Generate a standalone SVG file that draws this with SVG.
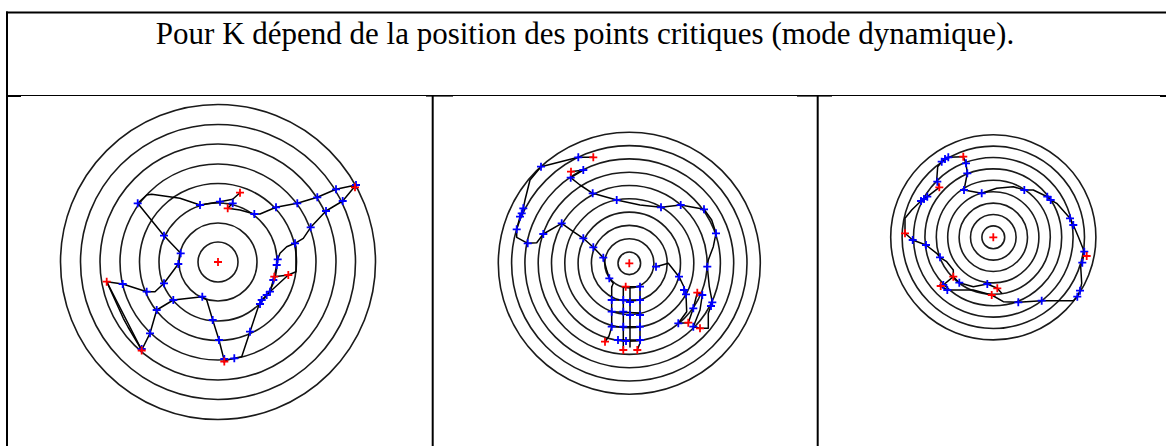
<svg xmlns="http://www.w3.org/2000/svg" xmlns:xlink="http://www.w3.org/1999/xlink" width="1166" height="446" viewBox="0 0 1166 446">
<style>
.ring{fill:none;stroke:#1a1a1a;stroke-width:1.6}
.trk{fill:none;stroke:#000;stroke-width:1.5;stroke-linejoin:round;stroke-linecap:round}
.b{stroke:#0000ff;stroke-width:1.8}
.r{stroke:#ff0000;stroke-width:1.8}
.tl{stroke:#000;fill:none}
.title{font-family:"Liberation Serif","Times New Roman",serif;font-size:31px;fill:#000}
</style>
<defs>
<path id="c" d="M-4 0H4M0 -4V4" fill="none"/>
</defs>
<rect width="1166" height="446" fill="#fff"/>
<g id="table">
<line class="tl" x1="6" y1="12.5" x2="1166" y2="12.5" stroke-width="2"/>
<line class="tl" x1="7" y1="11.5" x2="7" y2="446" stroke-width="2"/>
<line class="tl" x1="7" y1="95.5" x2="1166" y2="95.5" stroke-width="1"/>
<rect x="7" y="95" width="14" height="2" fill="#000"/>
<rect x="426" y="95" width="27" height="1.6" fill="#000"/>
<rect x="797" y="95" width="35" height="1.6" fill="#000"/>
<rect x="1160" y="95" width="6" height="2" fill="#000"/>
<line class="tl" x1="432.7" y1="95" x2="432.7" y2="446" stroke-width="2"/>
<line class="tl" x1="817.7" y1="95" x2="817.7" y2="446" stroke-width="2"/>
</g>
<text class="title" x="585" y="44" text-anchor="middle">Pour K dépend de la position des points critiques (mode dynamique).</text>
<g id="panel1">
<circle class="ring" cx="218" cy="262" r="20"/>
<circle class="ring" cx="218" cy="262" r="39"/>
<circle class="ring" cx="218" cy="262" r="59"/>
<circle class="ring" cx="218" cy="262" r="78.5"/>
<circle class="ring" cx="218" cy="262" r="98"/>
<circle class="ring" cx="218" cy="262" r="118"/>
<circle class="ring" cx="218" cy="262" r="137.5"/>
<circle class="ring" cx="218" cy="262" r="157.5"/>
<polyline class="trk" points="137.7,203.3 146.7,195 151.7,194.3 180,198.3 200,205 220,201.7 232.7,199.3 240,192.7"/>
<polyline class="trk" points="232.7,199.3 232.7,203.3 227.7,208.3 240,210 254.3,214 260,214 276,207.3 297.3,203.3 317.3,197.3 336,189.3 356,185 342.7,201 326,211 310.7,227.3 303.3,238.3 295,243.3 286.7,246.7 280,253.3 277.7,259.3 276.7,265 274.3,276.7 273.3,280 270,291.7 266.7,295 261.7,300 258.3,306.7 250,331.7 241.7,356.7 234.3,358.3 224.3,360.7 219,340 212.7,320 206.7,300 202.3,296.7 173.3,300 156.7,310 150,333.3 141.7,350 128,327 123.3,318.3 106.7,281.7 122.7,284 146.7,291.7 155,291.7 164,283.3 178.3,264 180.7,253.3 164,235.7 137.7,203.3"/>
<polyline class="trk" points="295,243.3 296,246.7 296,271.7 288.3,275 274.3,276.7"/>
<polyline class="trk" points="270,291.7 288.3,275"/>
<polyline class="trk" points="106.7,281.7 141.7,350"/>
<g class="b">
<use xlink:href="#c" x="137.7" y="203.3"/><use xlink:href="#c" x="200" y="205"/><use xlink:href="#c" x="220" y="201.7"/><use xlink:href="#c" x="232.7" y="203.3"/>
<use xlink:href="#c" x="254.3" y="214"/><use xlink:href="#c" x="276" y="207.3"/><use xlink:href="#c" x="297.3" y="203.3"/><use xlink:href="#c" x="317.3" y="197.3"/>
<use xlink:href="#c" x="336" y="189.3"/><use xlink:href="#c" x="356" y="185"/><use xlink:href="#c" x="342.7" y="201"/><use xlink:href="#c" x="326" y="211"/>
<use xlink:href="#c" x="310.7" y="227.3"/><use xlink:href="#c" x="295" y="243.3"/><use xlink:href="#c" x="277.7" y="259.3"/><use xlink:href="#c" x="276.7" y="265"/>
<use xlink:href="#c" x="273.3" y="280"/><use xlink:href="#c" x="270" y="291.7"/><use xlink:href="#c" x="266.7" y="295"/><use xlink:href="#c" x="261.7" y="300"/>
<use xlink:href="#c" x="260" y="304"/><use xlink:href="#c" x="250" y="331.7"/><use xlink:href="#c" x="234.3" y="358.3"/><use xlink:href="#c" x="224.3" y="359"/>
<use xlink:href="#c" x="219" y="340"/><use xlink:href="#c" x="212.7" y="320"/><use xlink:href="#c" x="202.3" y="296.7"/><use xlink:href="#c" x="173.3" y="300"/>
<use xlink:href="#c" x="156.7" y="310"/><use xlink:href="#c" x="150" y="333.3"/><use xlink:href="#c" x="141.7" y="349"/><use xlink:href="#c" x="122.7" y="284"/>
<use xlink:href="#c" x="146.7" y="291.7"/><use xlink:href="#c" x="164" y="283.3"/><use xlink:href="#c" x="178.3" y="264"/><use xlink:href="#c" x="180.7" y="253.3"/>
<use xlink:href="#c" x="164" y="235.7"/>
</g>
<g class="r">
<use xlink:href="#c" x="240" y="192.7"/><use xlink:href="#c" x="227.7" y="208.3"/><use xlink:href="#c" x="355" y="187.3"/><use xlink:href="#c" x="274.3" y="276.7"/>
<use xlink:href="#c" x="288.3" y="275"/><use xlink:href="#c" x="224.3" y="361.5"/><use xlink:href="#c" x="141.7" y="350.5"/><use xlink:href="#c" x="106.7" y="281.7"/>
<use xlink:href="#c" x="218" y="262"/>
</g>
</g>
<g id="panel2">
<circle class="ring" cx="629.3" cy="263.3" r="11.3"/>
<circle class="ring" cx="629.3" cy="263.3" r="24.6"/>
<circle class="ring" cx="629.3" cy="263.3" r="37.9"/>
<circle class="ring" cx="629.3" cy="263.3" r="51.2"/>
<circle class="ring" cx="629.3" cy="263.3" r="64.5"/>
<circle class="ring" cx="629.3" cy="263.3" r="77.8"/>
<circle class="ring" cx="629.3" cy="263.3" r="91.1"/>
<circle class="ring" cx="629.3" cy="263.3" r="104.4"/>
<circle class="ring" cx="629.3" cy="263.3" r="117.7"/>
<circle class="ring" cx="629.3" cy="263.3" r="131"/>
<polyline class="trk" points="593.3,157.3 578.3,157.3 541,166.7 530,180 525,200 523.3,208.3 521.7,213.3 520,216.7 516.7,229.3 516.7,237.3 527.7,243.3 536.7,242.7 543.3,234 561.7,223.3 573.3,231.7 583.3,238.3 593.3,247.3 603.3,257.7 606.7,270 609.3,278.3 613.3,283.3 611.7,287"/>
<polyline class="trk" points="571,171.7 583.3,170 570.7,177.7 580,185 592.7,193.3 616.7,200 640,205 661,207.3 680.7,205 704,209.3 711.7,220 716,233.3 713.3,246.7 708.3,260 707.3,266.7 709.3,286.7 712.3,302.3 708.3,313.3 708.3,328.3 700,328.3 693.3,326.7"/>
<polyline class="trk" points="656,266.7 668.3,263.3 679,276.7 684,287 686,294.3 686.7,311.7 678.3,323.3 688.3,322.7 693.3,308.3 697.3,292.7 702.3,295 700,310 693.3,326.7"/>
<polyline class="trk" points="611.7,287 611.7,327 609,336 605,341.7"/>
<polyline class="trk" points="623.3,287 623.3,350"/>
<polyline class="trk" points="630,287 630,347"/>
<polyline class="trk" points="640,286.7 640,343 637.3,350"/>
<polyline class="trk" points="611.7,300 640,300"/>
<polyline class="trk" points="611.7,311.7 640,313"/>
<polyline class="trk" points="611.7,326.7 640,326.7"/>
<polyline class="trk" points="618,340 640,340"/>
<polyline class="trk" points="623.3,286.7 640,286.7"/>
<g class="b">
<use xlink:href="#c" x="578.3" y="157.3"/><use xlink:href="#c" x="541" y="166.7"/><use xlink:href="#c" x="523.3" y="208.3"/><use xlink:href="#c" x="521.7" y="213.3"/>
<use xlink:href="#c" x="520" y="216.7"/><use xlink:href="#c" x="516.7" y="229.3"/><use xlink:href="#c" x="527.7" y="243.3"/><use xlink:href="#c" x="543.3" y="234"/>
<use xlink:href="#c" x="561.7" y="223.3"/><use xlink:href="#c" x="583.3" y="238.3"/><use xlink:href="#c" x="593.3" y="247.3"/><use xlink:href="#c" x="603.3" y="257.7"/>
<use xlink:href="#c" x="609.3" y="278.3"/><use xlink:href="#c" x="583.3" y="170"/><use xlink:href="#c" x="570.7" y="177.7"/><use xlink:href="#c" x="592.7" y="193.3"/>
<use xlink:href="#c" x="616.7" y="200"/><use xlink:href="#c" x="661" y="207.3"/><use xlink:href="#c" x="680.7" y="205"/><use xlink:href="#c" x="704" y="209.3"/>
<use xlink:href="#c" x="716" y="233.3"/><use xlink:href="#c" x="707.3" y="266.7"/><use xlink:href="#c" x="712.3" y="302.3"/><use xlink:href="#c" x="711" y="306"/>
<use xlink:href="#c" x="693.3" y="326.7"/><use xlink:href="#c" x="656" y="266.7"/><use xlink:href="#c" x="679" y="276.7"/><use xlink:href="#c" x="686" y="294.3"/>
<use xlink:href="#c" x="678.3" y="323.3"/><use xlink:href="#c" x="693.3" y="308.3"/><use xlink:href="#c" x="702.3" y="295"/><use xlink:href="#c" x="684" y="290"/>
<use xlink:href="#c" x="611.7" y="300"/><use xlink:href="#c" x="611.7" y="311.7"/><use xlink:href="#c" x="623.3" y="300"/><use xlink:href="#c" x="623.3" y="311.7"/>
<use xlink:href="#c" x="623.3" y="326.7"/><use xlink:href="#c" x="630" y="302"/><use xlink:href="#c" x="630" y="315"/><use xlink:href="#c" x="640" y="286.7"/>
<use xlink:href="#c" x="640" y="300"/><use xlink:href="#c" x="640" y="315"/><use xlink:href="#c" x="640" y="326.7"/><use xlink:href="#c" x="640" y="340"/>
<use xlink:href="#c" x="611.7" y="326.7"/><use xlink:href="#c" x="618" y="340"/><use xlink:href="#c" x="626" y="341"/>
</g>
<g class="r">
<use xlink:href="#c" x="593.3" y="157.3"/><use xlink:href="#c" x="571" y="171.7"/><use xlink:href="#c" x="700" y="328.3"/><use xlink:href="#c" x="688.3" y="322.7"/>
<use xlink:href="#c" x="697.3" y="292.7"/><use xlink:href="#c" x="629.3" y="263.3"/><use xlink:href="#c" x="625.7" y="286.7"/><use xlink:href="#c" x="605" y="341.7"/>
<use xlink:href="#c" x="623.3" y="350"/><use xlink:href="#c" x="637.3" y="350"/>
</g>
</g>
<g id="panel3">
<circle class="ring" cx="993.3" cy="237.3" r="11.4"/>
<circle class="ring" cx="993.3" cy="237.3" r="22.8"/>
<circle class="ring" cx="993.3" cy="237.3" r="34.2"/>
<circle class="ring" cx="993.3" cy="237.3" r="45.6"/>
<circle class="ring" cx="993.3" cy="237.3" r="57"/>
<circle class="ring" cx="993.3" cy="237.3" r="68.4"/>
<circle class="ring" cx="993.3" cy="237.3" r="79.8"/>
<circle class="ring" cx="993.3" cy="237.3" r="91.2"/>
<circle class="ring" cx="993.3" cy="237.3" r="102.6"/>
<polyline class="trk" points="963.3,156.7 948.3,157.3 941.7,161.7 937.7,166.7 936.7,180 937.3,181.7 939.3,187.3 927.3,196.7 921,201 911.7,210 905,218.3 905,233.3 912.7,240 926,245 936.7,253.3 940,257.3 946.7,261.7 953.3,270 953.3,276.7 959.3,282.7 973.3,286.7 987.3,284 997.3,288.3 1001.7,293.3"/>
<polyline class="trk" points="943.3,285 953.3,276.7"/>
<polyline class="trk" points="940.7,286 947.3,290 973.3,290 991.7,295 1003.3,301.7 1018.3,302.3 1041.7,300.7 1073.3,300.7 1077.3,296.7 1080,290.7 1081.7,283.3 1080.7,266.7 1082.3,262.7 1084.3,251.7 1078.3,236.7 1073.3,225 1070,218.3 1056.7,203.3 1050.7,200 1047.3,196.7 1033.3,190 1024.3,190 1013.3,186.7 996.7,188.3 981.7,193.3 964,190 966,180 967.3,173.3 966,163.3 963.3,156.7"/>
<g class="b">
<use xlink:href="#c" x="948.3" y="157.3"/><use xlink:href="#c" x="941.7" y="161.7"/><use xlink:href="#c" x="945" y="159"/><use xlink:href="#c" x="937.3" y="181.7"/>
<use xlink:href="#c" x="927.3" y="196.7"/><use xlink:href="#c" x="921" y="201"/><use xlink:href="#c" x="924" y="199"/><use xlink:href="#c" x="912.7" y="240"/>
<use xlink:href="#c" x="926" y="245"/><use xlink:href="#c" x="940" y="257.3"/><use xlink:href="#c" x="959.3" y="282.7"/><use xlink:href="#c" x="943.3" y="285"/>
<use xlink:href="#c" x="947.3" y="290"/><use xlink:href="#c" x="987.3" y="284"/><use xlink:href="#c" x="1018.3" y="302.3"/><use xlink:href="#c" x="1041.7" y="300.7"/>
<use xlink:href="#c" x="1077.3" y="296.7"/><use xlink:href="#c" x="1080" y="290.7"/><use xlink:href="#c" x="1082.3" y="262.7"/><use xlink:href="#c" x="1084.3" y="251.7"/>
<use xlink:href="#c" x="1073.3" y="225"/><use xlink:href="#c" x="1070" y="218.3"/><use xlink:href="#c" x="1050.7" y="200"/><use xlink:href="#c" x="1047.3" y="196.7"/>
<use xlink:href="#c" x="1024.3" y="190"/><use xlink:href="#c" x="981.7" y="193.3"/><use xlink:href="#c" x="964" y="190"/><use xlink:href="#c" x="967.3" y="173.3"/>
<use xlink:href="#c" x="966" y="163.3"/>
</g>
<g class="r">
<use xlink:href="#c" x="963.3" y="156.7"/><use xlink:href="#c" x="939.3" y="187.3"/><use xlink:href="#c" x="905" y="233.3"/><use xlink:href="#c" x="953.3" y="276.7"/>
<use xlink:href="#c" x="940.7" y="286"/><use xlink:href="#c" x="997.3" y="288.3"/><use xlink:href="#c" x="991.7" y="295"/><use xlink:href="#c" x="1086.7" y="256"/>
<use xlink:href="#c" x="993.3" y="237.3"/>
</g>
</g>
</svg>
